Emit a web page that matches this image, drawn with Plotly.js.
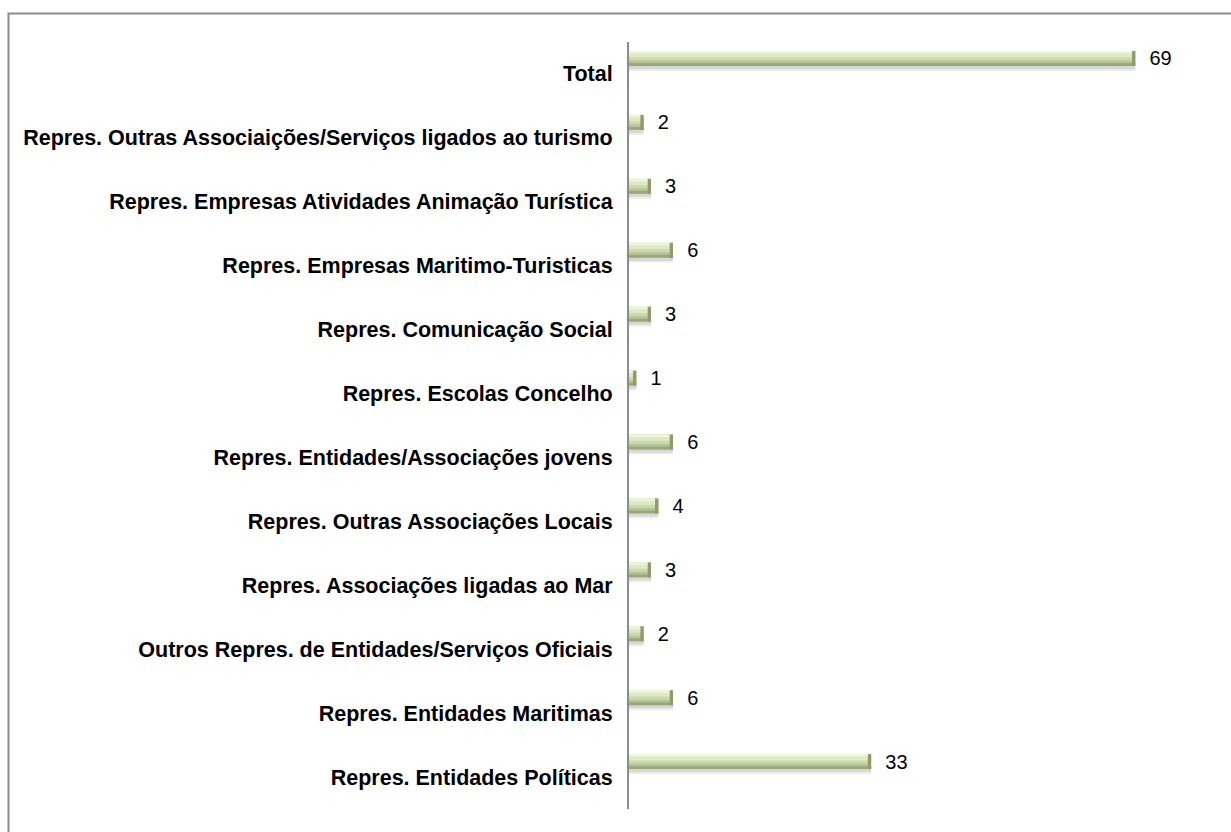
<!DOCTYPE html>
<html>
<head>
<meta charset="utf-8">
<script src="https://cdn.plot.ly/plotly-3.0.1.min.js"></script>
<style>
  html, body { margin: 0; padding: 0; background: #ffffff; }
  #chart { width: 1231px; height: 832px; }
</style>
</head>
<body>
<div id="chart"></div>
<script>
// Categories, bottom to top (as drawn)
const categories = [
  "Repres. Entidades Políticas",
  "Repres. Entidades Maritimas",
  "Outros Repres. de Entidades/Serviços Oficiais",
  "Repres. Associações ligadas ao Mar",
  "Repres. Outras Associações Locais",
  "Repres. Entidades/Associações jovens",
  "Repres. Escolas Concelho",
  "Repres. Comunicação Social",
  "Repres. Empresas Maritimo-Turisticas",
  "Repres. Empresas Atividades Animação Turística",
  "Repres. Outras Associaições/Serviços ligados ao turismo",
  "Total"
];
const values = [33, 6, 2, 3, 4, 6, 1, 3, 6, 3, 2, 69];

const FONT = '"Liberation Sans", Arial, sans-serif';
const NB = '\u00a0\u00a0';

function layer(color, offset, width, extra) {
  return Object.assign({
    type: 'bar',
    orientation: 'h',
    x: values,
    y: categories,
    offset: offset,
    width: width,
    marker: { color: color, line: { width: 0 } },
    hoverinfo: 'skip',
    showlegend: false
  }, extra || {});
}

const capLen = 0.45;
const traces = [
  // soft shadow under the bar
  layer('rgba(150,150,150,0.16)', 0.045, 0.12),
  layer('rgba(130,130,130,0.2)', 0.075, 0.09),
  // bar body
  layer('#b7c596', 0.125, 0.234, {
    text: values.map(v => NB + v),
    textposition: 'outside',
    constraintext: 'none',
    cliponaxis: false,
    textfont: { family: FONT, size: 20, color: '#000000' }
  }),
  // lower dark band
  layer('#9aa978', 0.125, 0.045),
  // upper lighter bands
  layer('#ccd9ae', 0.21, 0.12),
  layer('#dfeac3', 0.26, 0.08),
  layer('#eef6dc', 0.32, 0.04),
  // darker end cap
  Object.assign(layer('#8e9c6a', 0.125, 0.234), {
    x: values.map(() => capLen),
    base: values.map(v => v - capLen)
  })
];

const layout = {
  width: 1231,
  height: 832,
  margin: { l: 629, r: 15, t: 42, b: 23, pad: 0 },
  paper_bgcolor: '#ffffff',
  plot_bgcolor: '#ffffff',
  barmode: 'overlay',
  showlegend: false,
  font: { family: FONT, size: 20, color: '#000000' },
  xaxis: {
    range: [0, 80],
    showgrid: false,
    zeroline: false,
    showline: false,
    showticklabels: false,
    ticks: '',
    fixedrange: true
  },
  yaxis: {
    type: 'category',
    categoryorder: 'array',
    categoryarray: categories,
    range: [-0.5, 11.5],
    showgrid: false,
    zeroline: false,
    showline: true,
    linecolor: '#8c8c8c',
    linewidth: 2,
    ticks: '',
    ticklabelstandoff: 10,
    tickfont: { family: FONT, size: 21.5, color: '#000000', weight: 'bold' },
    fixedrange: true
  },
  shapes: [
    {
      type: 'rect', xref: 'paper', yref: 'paper',
      x0: (8.5 - 629) / 587, x1: (1260 - 629) / 587,
      y0: (809 - 860) / 767, y1: (809 - 13.5) / 767,
      line: { color: '#8c8c8c', width: 2 },
      fillcolor: 'rgba(0,0,0,0)',
      layer: 'below'
    }
  ]
};

Plotly.newPlot('chart', traces, layout, { displayModeBar: false, staticPlot: true });
</script>
</body>
</html>
